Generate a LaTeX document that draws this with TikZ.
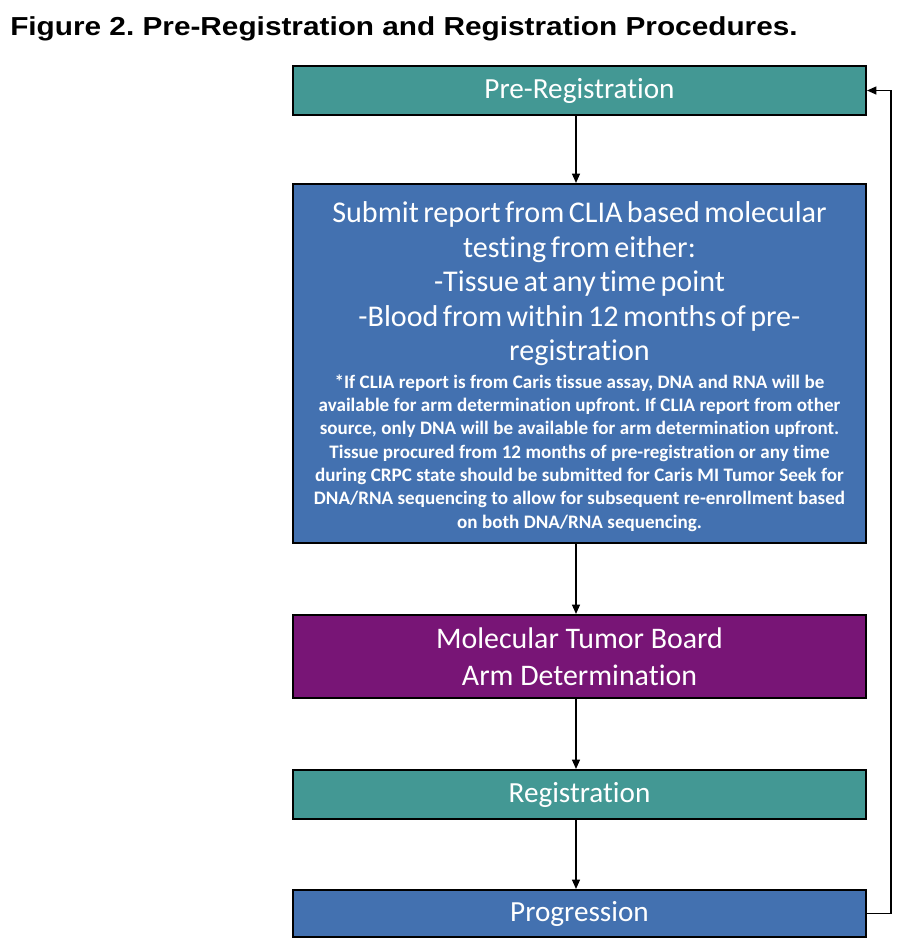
\documentclass[tikz,border=0pt]{standalone}
\usepackage{fontspec}
\setmainfont{Carlito}[Ligatures=NoCommon]
\newfontfamily\titlefont{Liberation Sans}
\usetikzlibrary{arrows.meta}
\definecolor{tealbox}{RGB}{67,152,148}
\definecolor{bluebox}{RGB}{67,113,176}
\definecolor{purplebox}{RGB}{120,21,118}
\tikzset{
  box/.style={draw=black, line width=1.6pt, text=white, align=center,
    minimum width=429.75pt, inner sep=0pt},
  flow/.style={draw=black, line width=1pt, -{Triangle[length=7pt,width=6pt]}},
}
\frenchspacing
\begin{document}
\begin{tikzpicture}[x=0.75pt,y=-0.75pt]
\useasboundingbox (0,0) rectangle (919,951);
\fill[white] (0,0) rectangle (919,951);
\node[anchor=base west, inner sep=0pt, font=\titlefont\bfseries\fontsize{19.5pt}{22pt}\selectfont] (title) at (10,35) {\scalebox{1.145}[1]{Figure 2. Pre-Registration and Registration Procedures.}};
\node[box, fill=tealbox, minimum height=36.75pt, font=\fontsize{21.9pt}{26pt}\selectfont] (pre) at (579.5,90.5) {Pre-Registration};
\node[box, fill=bluebox, minimum height=269.25pt] (sub) at (579.5,363.5) {};
\node[text=white, align=center, text width=425pt, inner sep=0pt] (subtext) at (579.5,366.5)
 {\fontsize{22.6pt}{25.9pt}\selectfont Submit report from CLIA based molecular\\
  testing from either:\\
  -Tissue at any time point\\
  -Blood from within 12 months of pre-\\
  registration\par\vspace{3pt}
  \fontsize{14.3pt}{17.5pt}\selectfont\bfseries
  *If CLIA report is from Caris tissue assay, DNA and RNA will be\\
  available for arm determination upfront. If CLIA report from other\\
  source, only DNA will be available for arm determination upfront.\\
  Tissue procured from 12 months of pre-registration or any time\\
  during CRPC state should be submitted for Caris MI Tumor Seek for\\
  DNA/RNA sequencing to allow for subsequent re-enrollment based\\
  on both DNA/RNA sequencing.\par};
\node[box, fill=purplebox, minimum height=62.25pt, font=\fontsize{22.4pt}{27.75pt}\selectfont] (mtb) at (579.5,656.5) {Molecular Tumor Board\\Arm Determination};
\node[box, fill=tealbox, minimum height=36.75pt, font=\fontsize{21.9pt}{26pt}\selectfont] (reg) at (579.5,794.5) {Registration};
\node[box, fill=bluebox, minimum height=35.25pt, font=\fontsize{21.9pt}{26pt}\selectfont] (prog) at (579.5,913.5) {Progression};
\coordinate (c1) at (891,913.5);
\coordinate (c2) at (891,90.5);
\draw[flow] (pre.south -| 576,0) -- (sub.north -| 576,0);
\draw[flow] (sub.south -| 576,0) -- (mtb.north -| 576,0);
\draw[flow] (mtb.south -| 576,0) -- (reg.north -| 576,0);
\draw[flow] (reg.south -| 576,0) -- (prog.north -| 576,0);
\draw[flow] (prog.east) -- (c1) -- (c2) -- (pre.east);
\end{tikzpicture}
\end{document}
